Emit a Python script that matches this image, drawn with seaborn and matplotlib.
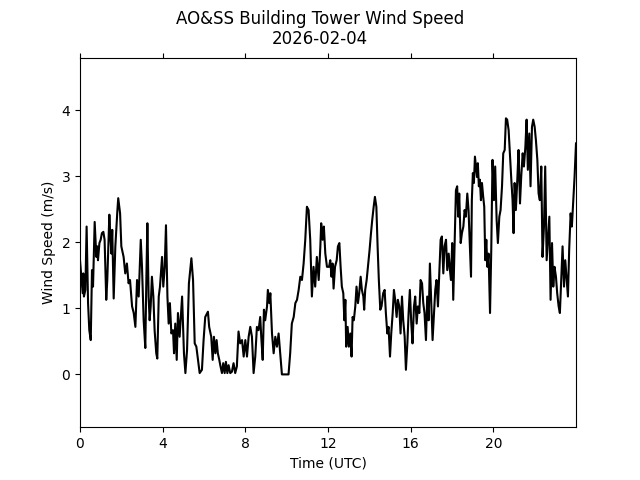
import seaborn as sns
import pandas as pd
import numpy as np
import matplotlib
matplotlib.use("Agg")
import matplotlib.pyplot as plt

# hours (UTC) and wind speed (m/s)
hours = [0.0, 0.13, 0.16, 0.19, 0.26, 0.32, 0.39, 0.45, 0.52, 0.58, 0.63, 0.71, 0.79, 0.84, 0.87,
         0.94, 1.0, 1.06, 1.13, 1.19, 1.27, 1.32, 1.42, 1.47, 1.52, 1.56, 1.63, 1.71, 1.81, 1.85,
         1.94, 2.0, 2.11, 2.19, 2.27, 2.35, 2.42, 2.52, 2.60, 2.68, 2.76, 2.84, 2.94, 3.0, 3.08,
         3.16, 3.21, 3.26, 3.32, 3.37, 3.42, 3.48, 3.55, 3.61, 3.69, 3.74, 3.81, 3.87, 3.97, 4.03,
         4.10, 4.16, 4.23, 4.29, 4.35, 4.42, 4.5, 4.55, 4.61, 4.68, 4.74, 4.82, 4.94, 5.03, 5.10,
         5.18, 5.27, 5.39, 5.47, 5.55, 5.63, 5.71, 5.79, 5.90,
         5.98, 6.06, 6.19, 6.25, 6.35, 6.42, 6.48, 6.55, 6.61, 6.67, 6.74, 6.80, 6.87, 6.93, 7.0,
         7.06, 7.13, 7.19, 7.27, 7.35, 7.43, 7.51, 7.59, 7.67, 7.75, 7.84, 7.92, 8.0, 8.08, 8.16,
         8.24, 8.32, 8.40, 8.48, 8.56, 8.64, 8.72, 8.77, 8.84, 8.90, 8.96, 9.05, 9.09, 9.16, 9.21,
         9.29, 9.37, 9.45, 9.53, 9.61, 9.69, 9.77, 9.93, 10.09, 10.17, 10.25, 10.34, 10.42, 10.50,
         10.58, 10.66, 10.74, 10.82, 10.90, 10.98, 11.06, 11.14, 11.22, 11.30, 11.38, 11.46, 11.55,
         11.63, 11.67, 11.74, 11.80, 11.87, 11.95,
         12.05, 12.11, 12.17, 12.22, 12.27, 12.34, 12.42, 12.48, 12.55, 12.61, 12.67, 12.74, 12.79,
         12.84, 12.88, 12.95, 13.01, 13.08, 13.14, 13.19, 13.25, 13.32, 13.38, 13.45, 13.51, 13.58,
         13.64, 13.71, 13.75, 13.80, 13.87, 13.95, 14.01, 14.08, 14.14, 14.21, 14.27, 14.34, 14.40,
         14.46, 14.53, 14.59, 14.67, 14.74, 14.80, 14.87, 14.93, 15.0, 15.06, 15.13, 15.19, 15.25,
         15.32, 15.38, 15.45, 15.51, 15.58, 15.64, 15.71, 15.77, 15.84, 15.90, 15.96, 16.03, 16.09,
         16.16, 16.22, 16.29, 16.35, 16.42, 16.48, 16.55, 16.61, 16.67, 16.74, 16.80, 16.87, 16.93,
         17.0, 17.06, 17.13, 17.19, 17.25, 17.32, 17.38, 17.45, 17.51, 17.58, 17.64, 17.71, 17.77,
         17.84, 17.90, 17.95,
         18.01, 18.06, 18.13, 18.19, 18.25, 18.30, 18.35, 18.42, 18.48, 18.55, 18.61, 18.67, 18.74,
         18.80, 18.87, 18.92, 18.96, 19.01, 19.06, 19.11, 19.16, 19.21, 19.25, 19.30, 19.35, 19.40,
         19.45, 19.51, 19.56, 19.61, 19.66, 19.71, 19.77, 19.84, 19.90, 19.96, 20.03, 20.09, 20.16,
         20.22, 20.29, 20.35, 20.42, 20.48, 20.55, 20.61, 20.67, 20.74, 20.80, 20.87, 20.93, 20.98,
         21.03, 21.09, 21.16, 21.22, 21.29, 21.35, 21.42, 21.48, 21.55, 21.61, 21.67, 21.74, 21.80,
         21.87, 21.93, 22.0, 22.06, 22.13, 22.19, 22.25, 22.32, 22.38, 22.45, 22.51, 22.58, 22.64,
         22.71, 22.77, 22.84, 22.90, 22.96, 23.03, 23.09, 23.16, 23.22, 23.29, 23.35, 23.42, 23.48,
         23.55, 23.61, 23.67, 23.74, 23.80, 23.87, 23.93, 24.0]

speed = [1.73, 1.23, 1.53, 1.18, 1.28, 2.24, 1.08, 0.67, 0.52, 1.58, 1.33, 2.31, 1.78, 1.94, 1.73,
         1.99, 2.04, 2.14, 2.16, 2.04, 1.13, 1.43, 2.42, 2.09, 1.83, 2.19, 1.15, 1.94, 2.49, 2.67,
         2.44, 1.94, 1.78, 1.53, 1.68, 1.38, 1.43, 1.03, 0.93, 0.72, 1.43, 1.18, 2.04, 1.63, 0.82,
         0.40, 1.43, 2.29, 1.18, 0.82, 1.03, 1.48, 1.18, 0.67, 0.32, 0.24, 1.18, 1.33, 1.78, 1.33,
         1.63, 2.26, 1.18, 0.77, 1.08, 0.62, 0.67, 0.32, 0.77, 0.22, 0.93, 0.57, 1.18, 0.32, 0.02,
         0.37, 1.38, 1.76, 1.43, 0.47, 0.42, 0.22, 0.02, 0.07,
         0.52, 0.87, 0.95, 0.72, 0.57, 0.22, 0.57, 0.32, 0.52, 0.32, 0.22, 0.12, 0.02, 0.17, 0.02,
         0.19, 0.02, 0.14, 0.02, 0.04, 0.17, 0.02, 0.12, 0.65, 0.47, 0.52, 0.27, 0.52, 0.27, 0.57,
         0.72, 0.57, 0.02, 0.27, 0.72, 0.67, 0.87, 0.57, 0.22, 0.98, 0.82, 1.03, 1.28, 1.08, 1.23,
         0.62, 0.32, 0.57, 0.42, 0.62, 0.32, 0.0, 0.0, 0.0, 0.32, 0.77, 0.87, 1.08, 1.13,
         1.28, 1.48, 1.43, 1.68, 2.04, 2.54, 2.49, 2.04, 1.18, 1.63, 1.33, 1.78, 1.43,
         1.94, 2.29, 2.04, 2.24, 1.83, 1.63,
         1.63, 1.73, 1.48, 1.68, 1.30, 1.63, 1.73, 1.94, 1.99, 1.63, 1.33, 1.23, 0.82,
         1.13, 0.42, 0.72, 0.42, 0.62, 0.27, 0.87, 0.82, 1.03, 1.33, 1.08, 1.23, 1.48,
         1.28, 1.18, 0.98, 1.28, 1.43, 1.68, 1.88, 2.14, 2.34, 2.54, 2.69, 2.54, 1.94,
         1.43, 0.98, 1.03, 1.23, 1.28, 0.93, 0.62, 0.72, 0.27, 0.62, 0.93, 1.28, 1.13,
         0.87, 1.13, 1.03, 0.62, 1.18, 0.82, 0.57, 0.07, 0.47, 0.93, 1.28, 0.77, 0.47,
         1.03, 1.18, 0.77, 1.03, 0.93, 1.43, 1.38, 1.08, 0.93, 0.52, 1.18, 0.82, 1.68,
         1.03, 0.52, 0.93, 1.28, 1.43, 1.03, 1.48, 2.04, 2.09, 1.53, 1.94, 2.04, 1.58,
         1.83, 1.58, 1.43,
         1.99, 1.13, 2.04, 2.79, 2.85, 2.39, 2.74, 1.99, 2.14, 2.24, 2.49, 2.39, 2.74,
         2.49, 1.89, 1.48, 2.64, 3.05, 2.90, 3.30, 3.15, 2.99, 3.20, 2.85, 2.95, 2.64,
         2.90, 2.69, 2.54, 1.73, 2.04, 1.63, 1.83, 0.93, 1.89, 3.25, 2.64, 3.15, 2.34,
         1.99, 2.39, 2.49, 2.85, 3.35, 3.40, 3.88, 3.86, 3.70, 3.35, 2.95, 2.64, 2.14,
         2.90, 2.49, 2.95, 3.40, 2.59, 3.0, 3.35, 3.15, 3.45, 3.86, 3.10, 3.65, 2.85,
         3.75, 3.86, 3.75, 3.55, 3.25, 2.74, 2.64, 3.15, 1.78, 2.24, 3.15, 1.73, 2.04,
         2.39, 1.13, 1.99, 1.33, 1.63, 1.48, 1.23, 1.03, 0.93, 1.48, 1.94, 1.33, 1.73,
         1.43, 1.18, 1.89, 2.44, 2.24, 2.64, 2.99, 3.50]

df = pd.DataFrame({"Time (UTC)": hours, "Wind Speed (m/s)": speed})

fig, ax = plt.subplots(figsize=(6.4, 4.8), dpi=100)
sns.lineplot(data=df, x="Time (UTC)", y="Wind Speed (m/s)", color="black",
             linewidth=1.5, estimator=None, ax=ax)

fig.suptitle("AO&SS Building Tower Wind Speed\n2026-02-04")
ax.set_xlim(0, 24)
ax.set_ylim(-0.8, 4.8)
ax.set_xticks(np.arange(0, 24, 4))
ax.set_yticks([0, 1, 2, 3, 4])
ax.tick_params(top=True)

fig.savefig("out.png", dpi=100)
